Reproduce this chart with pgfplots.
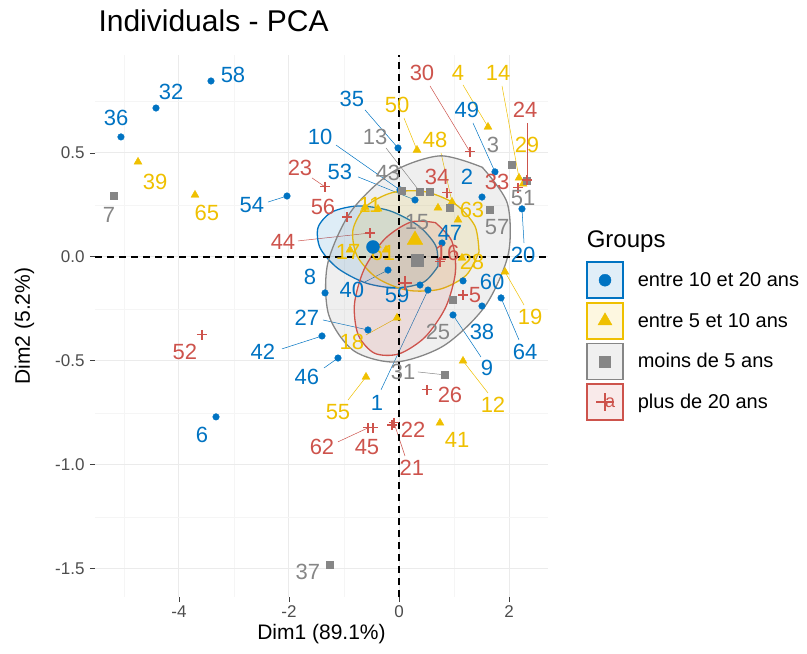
\documentclass[border=0pt]{standalone}
\usepackage{pgfplots}
\pgfplotsset{compat=1.18}
\usepackage{pgfplotstable}
\usepackage{fontspec}
\setmainfont{Liberation Sans}
\definecolor{cblue}{HTML}{0073C2}
\definecolor{cyellow}{HTML}{EFC000}
\definecolor{cgray}{HTML}{868686}
\definecolor{cred}{HTML}{CD534C}
\definecolor{ticktext}{HTML}{4D4D4D}
\newcommand\lfont{\fontsize{22}{22}\selectfont}

\pgfplotstableread{
x y lx ly sx sy lab
-3.418 0.846 -3.018 0.875 -3.418 0.846 58
-4.418 0.716 -4.145 0.793 -4.418 0.716 32
-5.055 0.577 -5.145 0.668 -5.055 0.577 36
-2.036 0.293 -2.673 0.250 -2.382 0.264 54
-3.327 -0.769 -3.582 -0.856 -3.327 -0.769 6
-1.400 -0.380 -2.473 -0.457 -2.127 -0.442 42
-1.109 -0.486 -1.673 -0.577 -1.364 -0.534 46
-1.345 -0.173 -1.618 -0.096 -1.345 -0.173 8
-0.564 -0.351 -1.673 -0.293 -1.382 -0.303 27
-0.200 -0.063 -0.855 -0.159 -0.618 -0.120 40
0.382 -0.135 -0.036 -0.183 0.382 -0.135 59
0.527 -0.159 -0.400 -0.702 -0.327 -0.639 1
1.509 -0.236 1.509 -0.361 1.509 -0.236 38
1.164 -0.115 1.691 -0.120 1.164 -0.115 60
0.982 -0.279 1.600 -0.534 1.491 -0.481 9
1.855 -0.197 2.291 -0.457 2.182 -0.399 64
2.236 0.231 2.255 0.010 2.273 0.067 20
1.509 0.288 1.236 0.385 1.509 0.288 2
1.745 0.409 1.236 0.707 1.345 0.644 49
-0.018 0.524 -0.855 0.760 -0.618 0.707 35
0.018 0.322 -1.436 0.577 -1.145 0.538 10
0.291 0.274 -1.073 0.409 -0.745 0.385 53
0.782 0.067 0.927 0.115 0.782 0.067 47
}\tblue

\pgfplotstableread{
x y lx ly sx sy lab
-4.745 0.457 -4.436 0.361 -4.745 0.457 39
-3.709 0.298 -3.491 0.212 -3.709 0.298 65
0.327 0.514 -0.036 0.731 0.091 0.668 50
1.618 0.625 1.073 0.885 1.164 0.827 4
2.182 0.380 1.800 0.885 1.873 0.822 14
2.255 0.351 2.327 0.538 2.255 0.351 29
0.964 0.264 0.655 0.563 0.764 0.500 48
1.073 0.178 1.327 0.226 1.073 0.178 63
-0.618 0.240 -0.527 0.250 -0.618 0.240 11
-0.891 0.034 -0.927 0.024 -0.891 0.034 17
-0.236 0.034 -0.291 0.019 -0.236 0.034 61
1.145 -0.005 1.327 -0.024 1.145 -0.005 28
1.927 -0.072 2.382 -0.288 2.273 -0.231 19
-0.036 -0.293 -0.855 -0.409 -0.600 -0.375 18
-0.600 -0.577 -1.109 -0.745 -0.927 -0.688 55
1.164 -0.500 1.709 -0.712 1.618 -0.654 12
0.745 -0.798 1.055 -0.880 0.745 -0.798 41
}\tyellow

\pgfplotstableread{
x y lx ly sx sy lab
-5.182 0.293 -5.273 0.202 -5.182 0.293 7
-1.255 -1.481 -1.655 -1.514 -1.255 -1.481 37
0.382 0.313 -0.436 0.577 -0.236 0.524 13
0.055 0.317 -0.200 0.404 0.055 0.317 43
2.055 0.442 1.709 0.538 2.055 0.442 3
2.327 0.365 2.255 0.284 2.327 0.365 51
1.655 0.226 1.782 0.144 1.655 0.226 57
0.927 0.236 0.327 0.168 0.927 0.236 15
0.982 -0.207 0.709 -0.361 0.982 -0.207 25
0.836 -0.567 0.073 -0.553 0.345 -0.553 31
}\tgray

\pgfplotstableread{
x y lx ly sx sy lab
-3.582 -0.375 -3.891 -0.457 -3.582 -0.375 52
-1.345 0.337 -1.800 0.428 -1.582 0.380 23
-0.945 0.192 -1.382 0.240 -0.945 0.192 56
-0.527 0.115 -2.109 0.072 -1.836 0.077 44
1.291 0.505 0.418 0.885 0.564 0.822 30
2.327 0.370 2.291 0.707 2.327 0.644 24
2.164 0.332 1.782 0.361 2.164 0.332 33
0.873 0.308 0.691 0.385 0.873 0.308 34
0.745 -0.024 0.873 0.019 0.745 -0.024 16
1.164 -0.183 1.382 -0.183 1.164 -0.183 5
0.509 -0.639 0.927 -0.663 0.509 -0.639 26
-0.127 -0.808 0.255 -0.832 -0.127 -0.808 22
-0.091 -0.798 0.236 -1.014 0.109 -0.957 21
-0.564 -0.822 -1.400 -0.913 -1.109 -0.889 62
-0.473 -0.822 -0.582 -0.913 -0.473 -0.822 45
}\tred

\pgfplotsset{
  seg/.style={line width=0.5pt, forget plot, quiver={u=\thisrow{sx}-\thisrow{x}, v=\thisrow{sy}-\thisrow{y}}},
  lbl/.style={forget plot, draw=none, mark=none, nodes near coords, point meta=explicit symbolic,
     every node near coord/.append style={anchor=center, inner sep=0pt, font=\lfont, text=#1}},
  ell/.style={#1, fill=#1, fill opacity=0.13, draw opacity=1, line width=1.3pt, smooth, forget plot},
}

\begin{document}
\begin{tikzpicture}
\begin{axis}[
  name=ax,
  scale only axis, width=453pt, height=542pt,
  xmin=-5.527, xmax=2.709, ymin=-1.635, ymax=0.971,
  clip=false,
  axis line style={draw=none},
  xtick={-4,-2,0,2}, xticklabels={-4,-2,0,2},
  ytick={-1.5,-1,-0.5,0,0.5}, yticklabels={-1.5,-1.0,-0.5,0.0,0.5},
  minor xtick={-5,-3,-1,1}, minor ytick={-1.25,-0.75,-0.25,0.25,0.75},
  grid=both,
  major grid style={black!8, line width=1pt},
  minor grid style={black!4, line width=0.6pt},
  tick align=outside, tick pos=left,
  major tick length=5pt, minor tick length=0pt,
  tick style={black!75, line width=0.9pt},
  tick label style={font=\fontsize{17}{17}\selectfont, text=ticktext},
  yticklabel style={xshift=-2pt},
  xlabel={Dim1 (89.1\%)}, ylabel={Dim2 (5.2\%)},
  xlabel style={at={(axis description cs:0.5,-0.0793)}, anchor=base, font=\fontsize{21}{21}\selectfont},
  ylabel style={at={(axis description cs:-0.1435,0.5)}, anchor=base, rotate=0, font=\fontsize{21}{21}\selectfont},
  title={Individuals - PCA},
  title style={at={(axis description cs:0,1.0314)}, anchor=base west, font=\fontsize{30}{30}\selectfont},
  legend style={at={(axis description cs:1.0839,0.5)}, anchor=west, yshift=0pt, draw=none, fill=none,
     inner sep=0pt, row sep=3pt, font=\fontsize{20}{24}\selectfont,
     nodes={inner sep=0pt},
     /tikz/every odd column/.append style={column sep=14pt}},
  legend cell align=left,
]
% label segments
\addplot[cblue, seg] table[x=x,y=y] {\tblue};
\addplot[cyellow, seg] table[x=x,y=y] {\tyellow};
\addplot[cgray, seg] table[x=x,y=y] {\tgray};
\addplot[cred, seg] table[x=x,y=y] {\tred};
% points
\addplot[only marks, mark=*, mark size=3.3pt, cblue, forget plot] table[x=x,y=y] {\tblue};
\addplot[only marks, mark=triangle*, mark size=4.6pt, cyellow, forget plot] table[x=x,y=y] {\tyellow};
\addplot[only marks, mark=triangle*, mark size=4.6pt, cyellow, forget plot] coordinates {(0.709,0.236) (-0.382,0.231)};
\addplot[only marks, mark=square*, mark size=3.4pt, cgray, forget plot] table[x=x,y=y] {\tgray};
\addplot[only marks, mark=square*, mark size=3.4pt, cgray, forget plot] coordinates {(0.564,0.313)};
\addplot[only marks, mark=+, mark size=5pt, line width=1.1pt, cred, forget plot] table[x=x,y=y] {\tred};
% labels
\addplot[lbl=cblue] table[x=lx,y=ly,meta=lab] {\tblue};
\addplot[lbl=cyellow] table[x=lx,y=ly,meta=lab] {\tyellow};
\addplot[lbl=cgray] table[x=lx,y=ly,meta=lab] {\tgray};
\addplot[lbl=cred] table[x=lx,y=ly,meta=lab] {\tred};
% ellipses
\addplot[ell=cblue] coordinates {(0.707,-0.046) (0.455,-0.120) (-0.022,-0.149) (-0.595,-0.126) (-1.111,-0.055) (-1.432,0.042) (-1.471,0.142) (-1.219,0.216) (-0.742,0.245) (-0.169,0.222) (0.347,0.151) (0.668,0.054) (0.707,-0.046)};
\addplot[ell=cyellow] coordinates {(1.455,0.024) (1.222,-0.088) (0.745,-0.155) (0.151,-0.160) (-0.401,-0.101) (-0.762,0.005) (-0.837,0.130) (-0.604,0.242) (-0.127,0.309) (0.467,0.314) (1.019,0.255) (1.380,0.149) (1.455,0.024)};
\addplot[ell=cgray] coordinates {(1.514,0.431) (1.968,0.259) (1.988,0.015) (1.567,-0.236) (0.819,-0.426) (-0.056,-0.505) (-0.824,-0.451) (-1.278,-0.278) (-1.298,-0.034) (-0.877,0.217) (-0.129,0.407) (0.746,0.486) (1.514,0.431)};
\addplot[ell=cred] coordinates {(0.662,0.165) (0.959,0.077) (1.027,-0.071) (0.850,-0.241) (0.475,-0.385) (0.000,-0.466) (-0.444,-0.463) (-0.741,-0.375) (-0.810,-0.227) (-0.632,-0.058) (-0.257,0.087) (0.218,0.168) (0.662,0.165)};
% centroids
\addplot[only marks, mark=+, mark size=7pt, line width=1.4pt, cred, forget plot] coordinates {(0.109,-0.125)};
\addplot[only marks, mark=*, mark size=6.5pt, cblue, forget plot] coordinates {(-0.473,0.048)};
\addplot[only marks, mark=triangle*, mark size=9pt, cyellow, forget plot] coordinates {(0.291,0.082)};
\addplot[only marks, mark=square*, mark size=6pt, cgray, forget plot] coordinates {(0.327,-0.014)};
% zero lines
\addplot[black, line width=1.3pt, dash pattern=on 7pt off 5pt, forget plot] coordinates {(-5.527,0) (2.709,0)};
\addplot[black, line width=1.3pt, dash pattern=on 7pt off 5pt, forget plot] coordinates {(0,-1.635) (0,0.971)};
% legend
\addlegendimage{empty legend}
\addlegendentry{\hspace*{-51pt}\fontsize{24}{28}\selectfont\raisebox{9pt}{Groups}}
\addlegendimage{legend image code/.code={
  \draw[cblue, fill=cblue!12, line width=1.6pt] (0pt,-18pt) rectangle (36pt,18pt);
  \draw[cblue, fill=cblue] plot[mark=*, mark size=6pt] coordinates {(18pt,0pt)};}}
\addlegendentry{entre 10 et 20 ans}
\addlegendimage{legend image code/.code={
  \draw[cyellow, fill=cyellow!12, line width=1.6pt] (0pt,-18pt) rectangle (36pt,18pt);
  \draw[cyellow, fill=cyellow] plot[mark=triangle*, mark size=8pt] coordinates {(18pt,0pt)};}}
\addlegendentry{entre 5 et 10 ans}
\addlegendimage{legend image code/.code={
  \draw[cgray, fill=cgray!12, line width=1.6pt] (0pt,-18pt) rectangle (36pt,18pt);
  \draw[cgray, fill=cgray] plot[mark=square*, mark size=5.5pt] coordinates {(18pt,0pt)};}}
\addlegendentry{moins de 5 ans}
\addlegendimage{legend image code/.code={
  \draw[cred, fill=cred!12, line width=1.6pt] (0pt,-18pt) rectangle (36pt,18pt);
  \node[text=cred, font=\fontsize{18}{18}\selectfont, inner sep=0pt] at (18pt,-1pt) {a};
  \draw[cred, line width=1.3pt] plot[mark=+, mark size=9pt] coordinates {(18pt,0pt)};}}
\addlegendentry{plus de 20 ans}
\coordinate (SW) at (rel axis cs:0,0);
\coordinate (NE) at (rel axis cs:1,1);
\end{axis}
\pgfresetboundingbox
\useasboundingbox ([shift={(-95pt,-56pt)}]SW) rectangle ([shift={(259pt,55pt)}]NE);
\end{tikzpicture}
\end{document}
